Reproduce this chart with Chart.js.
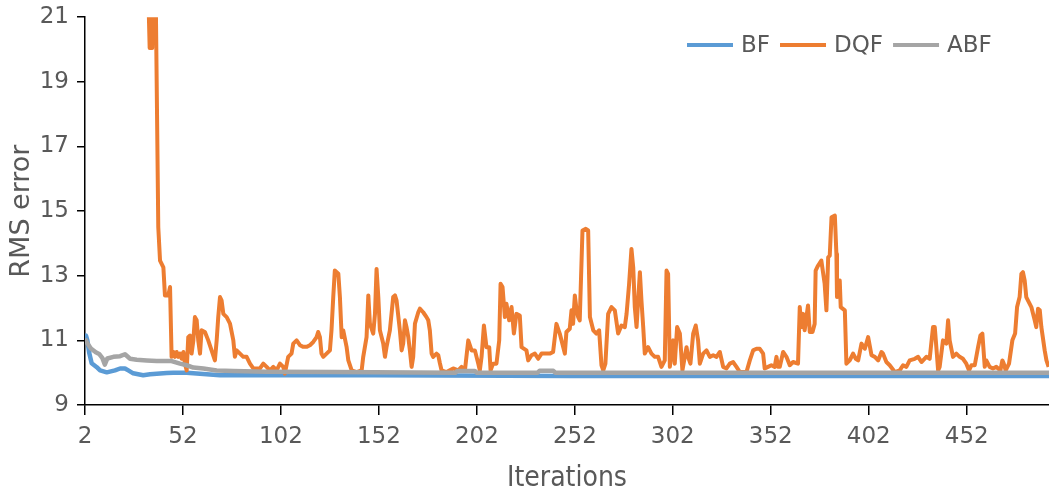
<!DOCTYPE html>
<html><head><meta charset="utf-8">
<script src="https://cdn.jsdelivr.net/npm/chart.js@4.4.0/dist/chart.umd.min.js"></script>
<style>html,body{margin:0;padding:0;background:#fff}#c{display:block}</style>
</head><body>
<canvas id="c" width="1049" height="496"></canvas>
<script>
const seriesNames = ['BF', 'DQF', 'ABF'];
const seriesColors = ['#5B9BD5', '#ED7D31', '#A5A5A5'];
const xTickValues = [2, 52, 102, 152, 202, 252, 302, 352, 402, 452];
const yTickValues = [9, 11, 13, 15, 17, 19, 21];
const xTitle = 'Iterations';
const yTitle = 'RMS error';

const bfIter = [2, 2.5, 3.2, 4.2, 5.4, 8.0, 9.7, 13.1, 17.3, 19.9, 22.4, 24.1, 26.6, 31.7, 35.2, 43.7, 47, 53.9, 60.7, 70.9, 94.7, 150, 250, 350, 494];
const bfVal  = [11.0, 11.15, 11.0, 10.6, 10.29, 10.17, 10.07, 10.01, 10.07, 10.13, 10.13, 10.07, 9.98, 9.92, 9.95, 9.99, 10.0, 10.0, 9.97, 9.92, 9.92, 9.92, 9.9, 9.9, 9.9];

const abfIter = [2, 3.3, 5, 7.5, 9.2, 10.9, 12.1, 13.4, 16.5, 19.9, 22.4, 25, 28.4, 33.5, 38.6, 46.2, 50.5, 53.9, 57.3, 62.4, 69.2, 77.7, 94.7, 128.7, 191, 192, 201, 202, 233, 234, 241, 242, 494];
const abfVal  = [11.05, 10.9, 10.75, 10.63, 10.58, 10.45, 10.25, 10.44, 10.49, 10.51, 10.57, 10.43, 10.40, 10.38, 10.36, 10.36, 10.28, 10.23, 10.16, 10.13, 10.07, 10.05, 10.03, 10.02, 10.0, 10.05, 10.05, 10.0, 10.0, 10.06, 10.06, 10.0, 10.0];

const dqfIter = [34, 35, 36.3, 37, 38, 39.4, 40.3, 42.0, 42.8, 44.5, 45.4, 46.2, 47.1, 47.9, 48.8, 49.6, 50.5, 51.3, 52.2, 53.0, 53.9, 54.7, 55.6, 56.4, 57.3, 58.1, 59.0, 59.8, 60.7, 61.5, 63.2, 64.9, 66.6, 68.3, 69.2, 70.0, 70.9, 71.7, 72.6, 74.3, 76.0, 77.7, 78.5, 79.4, 81.1, 82.8, 84.5, 86.2, 87.9, 89.6, 91.3, 93.0, 94.7, 96.4, 98.1, 99.8, 101.5, 103.2, 104.0, 105.7, 107.4, 108.3, 110.0, 111.7, 113.4, 115.1, 116.8, 118.5, 120.2, 121.0, 121.9, 122.7, 123.6, 125.3, 127.0, 127.8, 128.7, 129.5, 131.3, 132.1, 133.0, 133.8, 135.5, 136.4, 138.1, 140.6, 143.2, 144.0, 145.7, 146.6, 147.4, 149.1, 150.0, 150.8, 151.7, 152.5, 154.2, 155.1, 155.9, 157.6, 159.3, 160.2, 161.0, 162.7, 163.6, 164.4, 165.3, 166.1, 167.0, 167.8, 168.7, 169.5, 170.4, 172.1, 172.9, 174.6, 176.3, 177.2, 178.0, 178.9, 179.7, 181.4, 182.3, 183.1, 184.0, 186.5, 189.9, 192.5, 194.2, 195.9, 197.6, 199.3, 201.0, 202.7, 203.5, 204.4, 205.6, 206.9, 208.3, 209.0, 210.3, 212.0, 213.4, 214.1, 215.1, 216.3, 217.1, 218.5, 219.7, 220.9, 222.2, 223.9, 224.8, 227.3, 228.2, 229.9, 231.6, 233.3, 235.0, 237.5, 239.2, 240.9, 242.6, 244.3, 246.9, 247.7, 249.4, 250.3, 251.1, 252.0, 252.9, 253.7, 254.5, 255.9, 257.6, 258.8, 259.7, 261.4, 263.0, 264.4, 265.6, 266.5, 267.6, 269.0, 270.7, 272.4, 274.1, 275.8, 277.5, 278.4, 279.7, 280.9, 281.8, 282.6, 283.5, 284.3, 285.2, 286.0, 286.9, 287.7, 289.4, 291.1, 292.8, 294.5, 296.2, 297.9, 298.8, 299.6, 300.5, 302.2, 303.0, 304.2, 305.6, 306.9, 309.0, 309.8, 311.0, 312.4, 313.7, 314.9, 315.8, 317.5, 319.2, 320.9, 322.6, 324.3, 326.0, 327.7, 329.4, 331.1, 332.8, 334.5, 336.2, 339.6, 341.3, 343.0, 344.7, 346.4, 348.1, 348.9, 350.6, 352.3, 354.0, 354.9, 355.7, 356.6, 358.3, 360.0, 361.7, 363.4, 365.9, 366.8, 367.6, 368.5, 369.3, 371.0, 371.9, 373.3, 374.4, 374.9, 376.1, 377.8, 379.5, 380.4, 381.3, 382.1, 383.0, 384.7, 385.5, 385.8, 387.2, 387.7, 389.8, 390.6, 392.3, 394.0, 395.4, 396.6, 398.3, 400.0, 401.7, 403.4, 405.1, 406.8, 408.5, 409.3, 411.0, 412.7, 415.3, 417.8, 419.5, 421.2, 422.9, 425.5, 427.2, 428.9, 431.4, 433.1, 434.8, 435.7, 436.5, 437.4, 438.2, 439.9, 441.6, 442.5, 443.3, 445.0, 446.7, 448.4, 450.1, 451.8, 453.2, 454.4, 456.1, 457.8, 459.0, 460.0, 461.2, 462.0, 463.7, 465.4, 467.1, 469.2, 470.2, 470.9, 471.9, 473.6, 475.3, 476.7, 477.7, 479.0, 479.9, 480.7, 481.6, 482.4, 483.3, 485.0, 486.7, 487.5, 488.4, 489.3, 490.1, 491.8, 492.7, 493.8];
const dqfVal  = [22.5, 20.05, 20.05, 22.5, 22.2, 14.5, 13.47, 13.26, 12.39, 12.39, 12.65, 10.49, 10.64, 10.49, 10.64, 10.49, 10.59, 10.43, 10.64, 10.28, 10.07, 11.10, 11.15, 10.59, 11.0, 11.72, 11.62, 11.0, 10.59, 11.31, 11.26, 11.0, 10.69, 10.38, 11.0, 11.72, 12.34, 12.24, 11.82, 11.72, 11.52, 11.0, 10.49, 10.69, 10.59, 10.49, 10.49, 10.28, 10.13, 10.13, 10.13, 10.28, 10.18, 10.07, 10.18, 10.07, 10.28, 10.18, 9.97, 10.49, 10.59, 10.90, 11.0, 10.85, 10.80, 10.80, 10.85, 10.95, 11.10, 11.26, 11.10, 10.59, 10.49, 10.59, 10.69, 11.31, 12.34, 13.16, 13.06, 12.34, 11.10, 11.31, 10.80, 10.38, 10.07, 10.02, 10.07, 10.49, 11.10, 12.39, 11.52, 11.21, 11.82, 13.21, 12.34, 11.31, 10.90, 10.49, 10.80, 11.31, 12.34, 12.39, 12.24, 11.31, 10.69, 10.90, 11.62, 11.41, 11.10, 10.69, 10.18, 10.49, 11.52, 11.87, 11.98, 11.87, 11.72, 11.62, 11.31, 10.59, 10.49, 10.59, 10.54, 10.30, 10.07, 10.02, 10.13, 10.07, 10.18, 10.07, 11.0, 10.69, 10.69, 10.28, 10.07, 10.49, 11.46, 10.79, 10.79, 10.07, 10.28, 10.28, 11.0, 12.75, 12.65, 11.72, 12.13, 11.62, 12.03, 11.21, 11.82, 11.77, 10.79, 10.69, 10.38, 10.54, 10.59, 10.43, 10.59, 10.59, 10.59, 10.64, 11.51, 11.21, 10.59, 11.26, 11.36, 11.93, 11.51, 12.39, 11.93, 11.72, 11.62, 14.40, 14.45, 14.40, 11.72, 11.31, 11.21, 11.31, 10.23, 10.07, 10.28, 11.82, 12.03, 11.93, 11.21, 11.46, 11.41, 11.82, 12.75, 13.83, 13.26, 12.03, 11.41, 12.23, 13.11, 12.23, 11.41, 10.59, 10.79, 10.59, 10.49, 10.49, 10.18, 10.38, 13.16, 13.06, 10.18, 11.0, 10.28, 11.41, 11.21, 10.07, 10.79, 10.49, 10.28, 11.21, 11.46, 11.0, 10.28, 10.59, 10.69, 10.49, 10.54, 10.49, 10.64, 10.18, 10.13, 10.28, 10.33, 10.18, 10.02, 10.02, 10.38, 10.69, 10.74, 10.74, 10.59, 10.13, 10.18, 10.23, 10.18, 10.49, 10.18, 10.18, 10.64, 10.49, 10.23, 10.33, 10.28, 12.03, 11.41, 11.82, 11.31, 12.08, 11.26, 11.26, 11.51, 13.16, 13.31, 13.47, 12.75, 11.93, 13.57, 13.62, 14.81, 14.86, 13.67, 12.34, 12.85, 12.03, 11.93, 10.28, 10.38, 10.59, 10.43, 10.38, 10.90, 10.74, 11.10, 10.54, 10.49, 10.38, 10.64, 10.59, 10.33, 10.23, 10.02, 10.07, 10.23, 10.18, 10.38, 10.43, 10.49, 10.33, 10.49, 10.43, 11.41, 11.41, 10.79, 10.07, 10.18, 11.0, 10.90, 11.62, 11.0, 10.49, 10.59, 10.49, 10.43, 10.28, 10.07, 10.23, 10.23, 10.79, 11.15, 11.21, 10.18, 10.38, 10.18, 10.13, 10.18, 10.07, 10.38, 10.28, 10.07, 10.28, 11.0, 11.21, 12.03, 12.34, 13.06, 13.11, 12.85, 12.34, 12.23, 12.03, 11.62, 11.41, 11.98, 11.93, 11.41, 10.69, 10.38, 10.18];

const iterSets = [bfIter, dqfIter, abfIter];
const valSets = [bfVal, dqfVal, abfVal];
const lineWidths = [4.5, 4, 4.5];
const drawOrder = [2, 1, 0];

const tickFont = { family: 'DejaVu Sans', size: 23 };
const yTickFont = { family: 'DejaVu Sans', size: 23, lineHeight: 0.8 };
const textColor = '#595959';

const datasets = seriesNames.map((name, i) => ({
  label: name,
  data: iterSets[i].map((x, k) => ({ x: x, y: valSets[i][k] })),
  borderColor: seriesColors[i],
  backgroundColor: seriesColors[i],
  borderWidth: lineWidths[i],
  pointRadius: 0,
  tension: 0,
  order: drawOrder[i],
  borderJoinStyle: 'round'
}));

const lineLegend = {
  id: 'lineLegend',
  afterDraw(chart) {
    const ctx = chart.ctx;
    ctx.save();
    ctx.font = '23px "DejaVu Sans"';
    ctx.textBaseline = 'middle';
    ctx.textAlign = 'left';
    let x = 687;
    const y = 45;
    chart.data.datasets.forEach(ds => {
      ctx.strokeStyle = ds.borderColor;
      ctx.lineWidth = 4;
      ctx.beginPath();
      ctx.moveTo(x, y);
      ctx.lineTo(x + 46, y);
      ctx.stroke();
      ctx.fillStyle = textColor;
      ctx.fillText(ds.label, x + 54, y + 1);
      x += 54 + ctx.measureText(ds.label).width + 10;
    });
    ctx.restore();
  }
};

new Chart(document.getElementById('c'), {
  type: 'line',
  data: { datasets: datasets },
  plugins: [lineLegend],
  options: {
    responsive: false,
    animation: false,
    layout: { padding: { top: 16, right: 0, left: 0, bottom: 0 } },
    plugins: { legend: { display: false }, tooltip: { enabled: false } },
    scales: {
      x: {
        type: 'linear',
        min: 2,
        max: 494,
        afterBuildTicks: s => { s.ticks = xTickValues.map(v => ({ value: v })); },
        afterFit: s => { s.height = 91; },
        grid: { display: true, drawOnChartArea: false, drawTicks: true, tickLength: 10, color: '#000', lineWidth: 1.5 },
        border: { display: true, color: '#000', width: 1.5 },
        ticks: { font: tickFont, color: textColor, padding: 8, maxRotation: 0, autoSkip: false },
        title: { display: true, text: xTitle, color: textColor, font: { family: "'DejaVu Sans Condensed', 'DejaVu Sans'", size: 28 }, padding: { top: 0, bottom: 0 } }
      },
      y: {
        type: 'linear',
        min: 9,
        max: 21,
        afterBuildTicks: s => { s.ticks = yTickValues.map(v => ({ value: v })); },
        afterFit: s => { s.width = 85; },
        grid: { display: true, drawOnChartArea: false, drawTicks: true, tickLength: 8, color: '#000', lineWidth: 1.5 },
        border: { display: true, color: '#000', width: 1.5 },
        ticks: { font: yTickFont, color: textColor, padding: 8 },
        title: { display: true, text: yTitle, color: textColor, font: { family: 'DejaVu Sans', size: 27 }, padding: { top: 6, bottom: 0 } }
      }
    }
  }
});
</script>
</body></html>
